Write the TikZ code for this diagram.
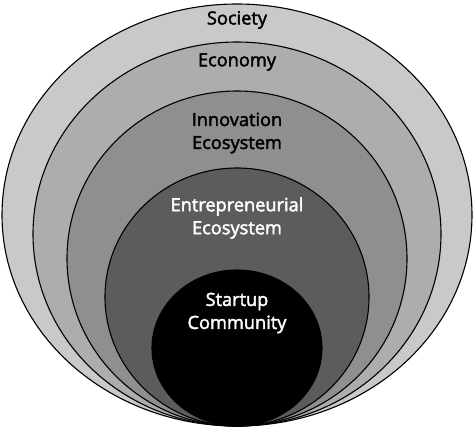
\documentclass[tikz,border=0pt]{standalone}
\usepackage{fontspec}
\setmainfont{Open Sans}
\newfontfamily\lblfont{Open Sans}[RawFeature={embolden=2.2}]
\usetikzlibrary{calc}
\definecolor{gray1}{gray}{0.79}
\definecolor{gray2}{gray}{0.68}
\definecolor{gray3}{gray}{0.56}
\definecolor{gray4}{gray}{0.36}
\tikzset{
  ring/.style={draw=black,line width=1.1pt},
  lbl/.style={font=\lblfont\fontsize{18.2}{23}\selectfont,align=center,inner sep=0pt},
}
\begin{document}
\begin{tikzpicture}[x=1pt,y=-1pt]
    \useasboundingbox (0,0) rectangle (474,429);
    % rings, all touching the bottom point
    \foreach \cy/\rx/\ry/\col in {215/235/211/gray1,234/204/192/gray2,258.5/170/167.5/gray3,297/132/129/gray4,348/85/78/black}{
      \path[ring,fill=\col] (237,\cy) ellipse [x radius=\rx,y radius=\ry];
    }

    \node[lbl] (society) at (237,20) {Society};
    \node[lbl] (economy) at (237,62) {Economy};
    \node[lbl] (innovation) at (237,133) {Innovation\\Ecosystem};
    \node[lbl,text=white] (entrepreneurial) at (237,218) {Entrepreneurial\\Ecosystem};
    \node[lbl,text=white] (startup) at (237,313) {Startup\\Community};
\end{tikzpicture}
\end{document}
